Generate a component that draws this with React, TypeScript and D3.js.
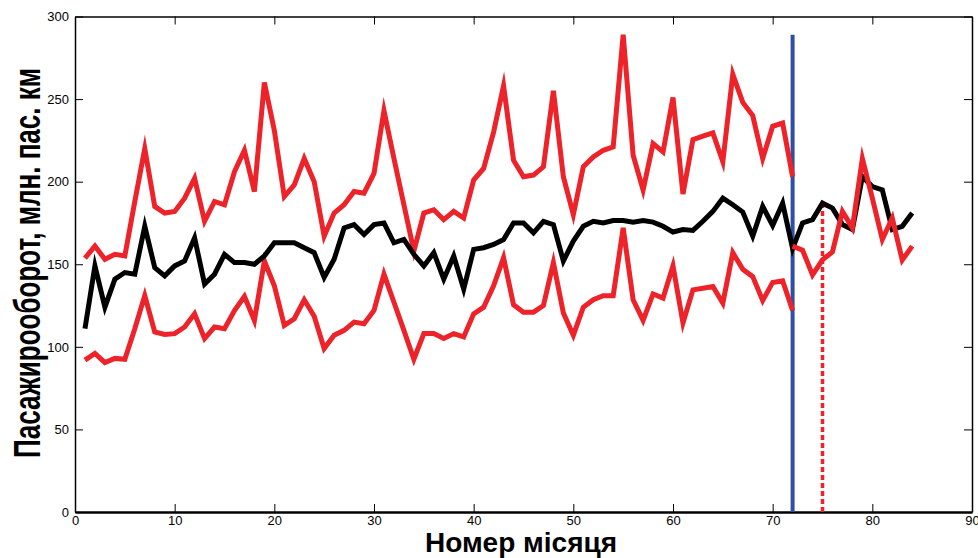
import React, { useRef, useEffect } from "react";
import { select, scaleLinear, line, axisBottom, axisLeft, axisTop, axisRight, range } from "d3";

// month numbers
const monthsAll = range(1, 85);
const monthsFit = range(1, 73);
const monthsForecast = range(72, 85);

// actual passenger turnover
const actual = [
  111, 149, 124, 141, 145, 144, 173, 148, 143, 149, 152, 166, 138, 144, 156, 151, 151, 150,
  155, 163, 163, 163, 160, 157, 142, 153, 172, 174, 168, 174, 175, 163, 165, 156, 149, 157,
  141, 155, 135, 159, 160, 162, 165, 175, 175, 169, 176, 174, 152, 164, 173, 176, 175, 176.5,
  176.5, 175.5, 176.4, 175.5, 173, 169.5, 171, 170.5, 176, 182, 190, 186, 181.6, 167, 185,
  173.5, 187, 159.5, 175, 177, 187, 184, 174, 171, 203, 197, 195, 171, 173, 181,
];

// upper bound of the model band
const upper = [
  153.7, 161, 153, 156, 155, 188, 220, 185, 181, 182, 190, 202, 176, 188, 186, 206, 219, 194,
  260, 231, 191, 198, 214, 200, 167, 181, 186, 194, 193, 205, 243, 214, 186, 158, 181, 183,
  177, 182, 178, 201, 208, 230, 258, 213, 203, 204, 209, 255, 203, 180, 209, 215, 219, 221,
  289, 216, 195, 223, 218, 251, 192.5, 225.5, 227.5, 229.5, 212, 265, 248, 240, 214, 233.5,
  235.5, 203,
];

// lower bound of the model band
const lower = [
  92, 96, 90.5, 93, 92.5, 111, 131, 109, 107.5, 108, 112, 120, 105, 112, 111, 122, 130.5, 116,
  152, 137, 113, 117, 128.5, 118.5, 99, 107, 110, 115, 114, 122, 144, 127, 110, 92.5, 108, 108,
  105, 108, 106, 120, 124, 137, 154, 125.5, 121, 121, 125, 151, 120.5, 107, 124, 128.5, 131, 131,
  172, 128.5, 116, 132, 129.5, 149, 114.5, 134.5, 135.5, 136.5, 126.5, 157, 147, 142.5, 128, 139,
  140, 122,
];

// forecast, months 72..84
const forecast = [161, 158.5, 143.6, 152.7, 157.5, 182, 172, 214, 190, 165, 178, 152.5, 161];

// vertical markers
const splitMonth = 72;
const splitTop = 289;
const checkMonth = 75;
const checkTop = 187;

const xTicks = [0, 10, 20, 30, 40, 50, 60, 70, 80, 90];
const yTicks = [0, 50, 100, 150, 200, 250, 300];

const RED = "#ee2229";
const FONT = "'Liberation Sans', Arial, sans-serif";

function App() {
  const svgRef = useRef(null);

  useEffect(() => {
    const svg = select(svgRef.current);
    svg.selectAll("*").remove();

    const x = scaleLinear().domain([0, 90]).range([75, 972]);
    const y = scaleLinear().domain([0, 300]).range([512, 16.5]);

    const styleAxis = (g, width) => {
      g.select(".domain").attr("stroke", "#000").attr("stroke-width", width);
      g.selectAll(".tick line").attr("stroke", "#000").attr("stroke-width", 1);
      g.selectAll("text").attr("font-family", FONT).attr("font-size", 13).attr("fill", "#000");
    };

    // box with inward ticks
    svg.append("g")
      .attr("transform", `translate(0,${y(300)})`)
      .call(axisTop(x).tickValues(xTicks).tickSize(-8).tickSizeOuter(0).tickFormat(() => ""))
      .call(g => styleAxis(g, 1.5));
    svg.append("g")
      .attr("transform", `translate(${x(90)},0)`)
      .call(axisRight(y).tickValues(yTicks).tickSize(-8).tickSizeOuter(0).tickFormat(() => ""))
      .call(g => styleAxis(g, 1.5));
    svg.append("g")
      .attr("transform", `translate(${x(0)},0)`)
      .call(axisLeft(y).tickValues(yTicks).tickSize(-8).tickSizeOuter(0).tickPadding(6))
      .call(g => styleAxis(g, 1.5));
    svg.append("g")
      .attr("transform", `translate(0,${y(0)})`)
      .call(axisBottom(x).tickValues(xTicks).tickSize(-8).tickSizeOuter(0).tickPadding(4))
      .call(g => styleAxis(g, 2.5));

    // split marker
    svg.append("line")
      .attr("x1", x(splitMonth)).attr("x2", x(splitMonth))
      .attr("y1", y(0)).attr("y2", y(splitTop))
      .attr("stroke", "#2e4fa3").attr("stroke-width", 4);

    svg.append("line")
      .attr("x1", x(checkMonth)).attr("x2", x(checkMonth))
      .attr("y1", y(0)).attr("y2", y(checkTop))
      .attr("stroke", RED).attr("stroke-width", 3.5).attr("stroke-dasharray", "5,3");

    const path = line().x(d => x(d[0])).y(d => y(d[1]));
    const draw = (ms, vals, color) =>
      svg.append("path")
        .attr("d", path(ms.map((m, i) => [m, vals[i]])))
        .attr("fill", "none").attr("stroke", color).attr("stroke-width", 5)
        .attr("stroke-linejoin", "miter").attr("stroke-miterlimit", 6);

    draw(monthsFit, upper, RED);
    draw(monthsFit, lower, RED);
    draw(monthsAll, actual, "#000");
    draw(monthsForecast, forecast, RED);

    svg.append("text")
      .attr("x", 521).attr("y", 552)
      .attr("text-anchor", "middle")
      .attr("font-family", FONT).attr("font-weight", "bold").attr("font-size", 28)
      .text("Номер місяця");

    // the reference label is stretched across, so scale the glyph height
    svg.append("text")
      .attr("transform", "translate(40,263) rotate(-90) scale(1,1.45)")
      .attr("text-anchor", "middle")
      .attr("font-family", FONT).attr("font-weight", "bold").attr("font-size", 26)
      .text("Пасажирооборот, млн. пас. км");
  }, []);

  return (
    <svg
      ref={svgRef}
      width={978}
      height={558}
      style={{ position: "absolute", left: 0, top: 0, background: "#fff" }}
    />
  );
}

export default App;
